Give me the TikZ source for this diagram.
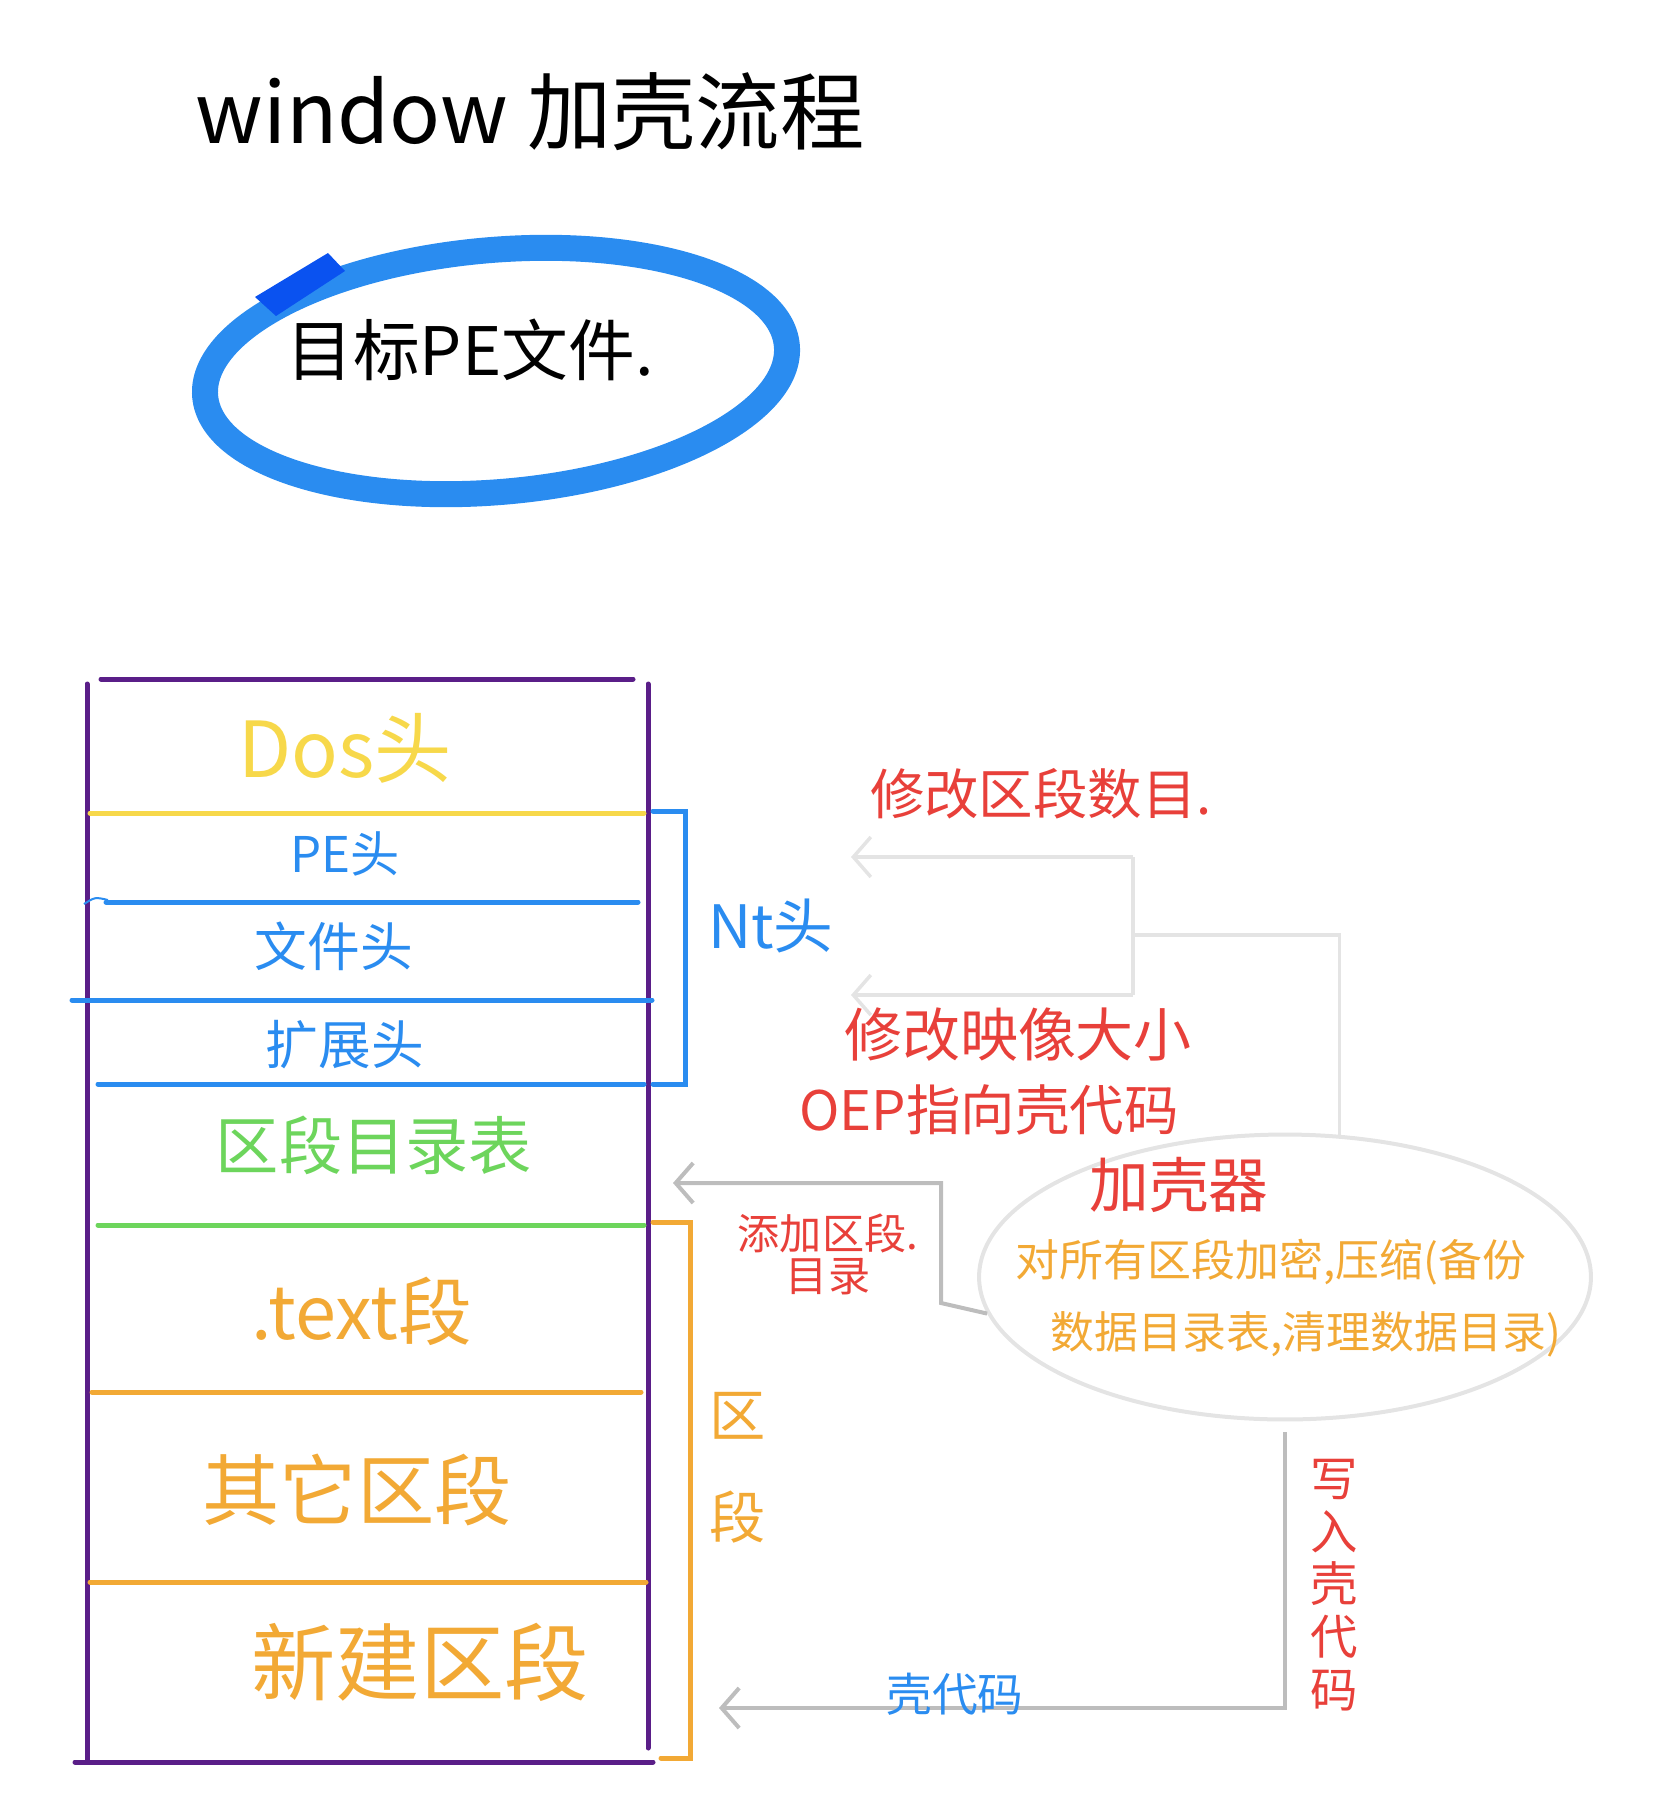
\documentclass[tikz,border=0pt]{standalone}
\usepackage{fontspec}
\setmainfont{Noto Sans CJK SC}
\usetikzlibrary{shapes.geometric,arrows.meta}
\definecolor{boxpurple}{HTML}{5A1E88}
\definecolor{dosyellow}{HTML}{F7D84A}
\definecolor{peblue}{HTML}{2A8CF0}
\definecolor{deepblue}{HTML}{0A52F0}
\definecolor{secgreen}{HTML}{6DD55C}
\definecolor{secorange}{HTML}{F2A935}
\definecolor{notered}{HTML}{E8403A}
\definecolor{linegray}{HTML}{BDBDBD}
\definecolor{palegray}{HTML}{E4E4E4}
\begin{document}
\begin{tikzpicture}[x=0.02cm,y=-0.02cm,
				lbl/.style={inner sep=0pt,font=\fontsize{#1pt}{#1pt}\selectfont},
				lbl/.default=30,
				rule/.style={line width=0.1cm,line cap=round},
				gline/.style={draw=linegray,line width=0.08cm,-{Straight Barb[length=0.35cm,width=0.8cm]}},
				pline/.style={draw=palegray,line width=0.07cm}]
\useasboundingbox (0,0) rectangle (1668,1804);
% title
\node[lbl=48] (title) at (530,112) {window 加壳流程};
% target file
\draw[peblue,line width=0.52cm,rotate around={5:(496,371)}] (496,371) ellipse [x radius=5.84cm,y radius=2.42cm];
\fill[deepblue] (255,297) -- (328,253) -- (345,271) -- (276,316) -- cycle;
\node[lbl=38] (target) at (470,350) {目标PE文件.};
% PE layout
\draw[boxpurple,rule] (101,679) -- (633,679);
\draw[boxpurple,rule] (87,684) -- (87,1762);
\draw[boxpurple,rule] (648,684) -- (648,1748);
\draw[boxpurple,rule] (75,1762) -- (653,1762);
\draw[dosyellow,rule] (90,813) -- (644,813);
\draw[peblue,rule] (106,902) -- (638,902);
\draw[peblue,line width=0.04cm] (84,904) .. controls (95,897) .. (108,900);
\draw[peblue,rule] (72,1000) -- (652,1000);
\draw[peblue,rule] (98,1084) -- (644,1084);
\draw[secgreen,rule] (98,1225) -- (644,1225);
\draw[secorange,rule] (92,1392) -- (641,1392);
\draw[secorange,rule] (90,1582) -- (646,1582);
\node[lbl=44,text=dosyellow] (dos) at (345,748) {Dos头};
\node[lbl=28,text=peblue] (pesig) at (345,854) {PE头};
\node[lbl=30,text=peblue] (filehdr) at (334,946) {文件头};
\node[lbl=30,text=peblue] (opthdr) at (345,1045) {扩展头};
\node[lbl=36,text=secgreen] (sectable) at (374,1145) {区段目录表};
\node[lbl=42,text=secorange] (textsec) at (362,1311) {.text段};
\node[lbl=44,text=secorange] (othersec) at (357,1490) {其它区段};
\node[lbl=48,text=secorange] (newsec) at (420,1662) {新建区段};
% brackets
\draw[peblue,rule] (653,811) -- (685,811) -- (685,1084) -- (653,1084);
\draw[secorange,rule] (653,1222) -- (690,1222) -- (690,1758) -- (661,1758);
\node[lbl=34,text=peblue] (nthdr) at (771,926) {Nt头};
\node[lbl=32,text=secorange,align=center,font=\fontsize{32pt}{58pt}\selectfont] (sections) at (738,1468) {区\\段};
% packer
\node[ellipse,draw=palegray,line width=0.08cm,minimum width=12.24cm,minimum height=5.7cm] (packer) at (1285,1277) {};
\node[lbl=34,text=notered] (packname) at (1179,1185) {加壳器};
\node[lbl=25,text=secorange] (packjob1) at (1271,1262) {对所有区段加密,压缩(备份};
\node[lbl=25,text=secorange] (packjob2) at (1306,1334) {数据目录表,清理数据目录)};
% arrows back to the file
\coordinate (nthub) at (1133,935);
\coordinate (nttop) at (1133,857);
\coordinate (ntbot) at (1133,995);
\coordinate (secnum) at (851,857);
\coordinate (imgsize) at (851,995);
\coordinate (secdir) at (673,1183);
\coordinate (shellin) at (719,1708);
\draw[pline] (packer.69) |- (nthub);
\draw[pline] (nttop) -- (ntbot);
\draw[pline,-{Straight Barb[length=0.35cm,width=0.8cm]}] (nttop) -- (secnum);
\draw[pline,-{Straight Barb[length=0.35cm,width=0.8cm]}] (ntbot) -- (imgsize);
\draw[gline] (packer.187) -- (941,1303) |- (secdir);
\draw[gline] ([yshift=-0.22cm]packer.south) |- (shellin);
% notes
\node[lbl=31,text=notered] (setnum) at (1041,794) {修改区段数目.};
\node[lbl=33,text=notered] (setsize) at (1018,1035) {修改映像大小};
\node[lbl=31,text=notered] (setoep) at (989,1110) {OEP指向壳代码};
\node[lbl=24,text=notered,align=center] (adddir) at (828,1254) {添加区段.\\目录};
\node[lbl=27,text=notered,align=center,font=\fontsize{27pt}{30pt}\selectfont] (writeshell) at (1334,1585) {写\\入\\壳\\代\\码};
\node[lbl=26,text=peblue] (shellcode) at (955,1694) {壳代码};
\end{tikzpicture}
\end{document}
